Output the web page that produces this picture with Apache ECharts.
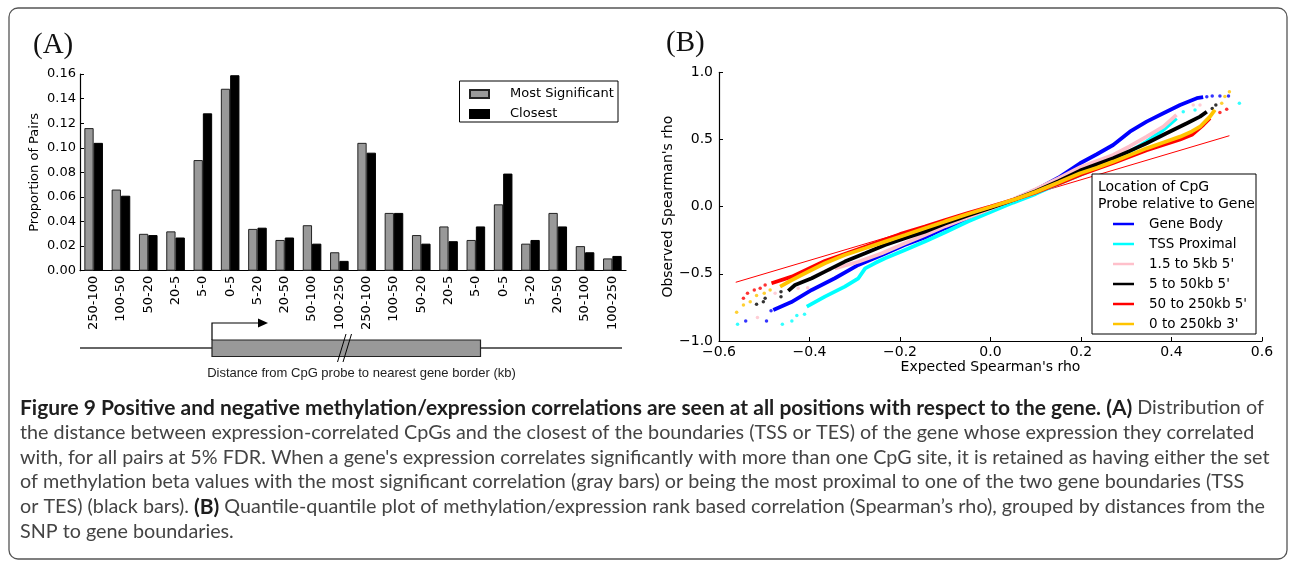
<!DOCTYPE html>
<html><head><meta charset="utf-8">
<script src="https://cdn.jsdelivr.net/npm/echarts@6/dist/echarts.min.js"></script>
<style>html,body{margin:0;padding:0;background:#fff}#c{width:1293px;height:562px}</style>
</head><body><div id="c"></div><script>
// ---------- Panel A data ----------
const distCategories = ['250-100','100-50','50-20','20-5','5-0','0-5','5-20','20-50','50-100','100-250',
  '250-100','100-50','50-20','20-5','5-0','0-5','5-20','20-50','50-100','100-250'];
const mostSignificant = [0.116,0.066,0.030,0.032,0.090,0.148,0.034,0.025,0.037,0.015,
  0.104,0.047,0.029,0.036,0.025,0.054,0.022,0.047,0.020,0.010];
const closest = [0.104,0.061,0.029,0.027,0.128,0.159,0.035,0.027,0.022,0.008,
  0.096,0.047,0.022,0.024,0.036,0.079,0.025,0.036,0.015,0.012];
const yAxisA = {min: 0, max: 0.16, interval: 0.02};

// ---------- Panel B data ----------
const xAxisB = {min: -0.6, max: 0.6, interval: 0.2};
const yAxisB = {min: -1.0, max: 1.0, interval: 0.5};
const refLine = [[-0.563,-0.563],[0.528,0.528]];
const geneBody = [[-0.48,-0.77],[-0.44,-0.71],[-0.395,-0.62],[-0.344,-0.533],[-0.292,-0.434],[-0.24,-0.36],
  [-0.19,-0.285],[-0.145,-0.23],[-0.1,-0.16],[-0.05,-0.09],[0,-0.02],[0.05,0.05],[0.1,0.125],[0.15,0.215],
  [0.198,0.323],[0.235,0.39],[0.271,0.459],[0.308,0.558],[0.345,0.633],[0.382,0.695],[0.419,0.757],[0.456,0.807],[0.47,0.815]];
const geneBodyTail = [[-0.541,-0.851],[-0.495,-0.851],[-0.485,-0.775],[0.478,0.818],[0.49,0.824],[0.507,0.824],[0.526,0.824]];
const tssProximal = [[-0.406,-0.744],[-0.366,-0.67],[-0.322,-0.595],[-0.292,-0.533],[-0.277,-0.459],[-0.255,-0.42],
  [-0.233,-0.384],[-0.189,-0.322],[-0.145,-0.26],[-0.1,-0.19],[-0.05,-0.11],[0,-0.04],[0.05,0.03],[0.1,0.095],
  [0.15,0.17],[0.2,0.24],[0.25,0.31],[0.28,0.36],[0.308,0.409],[0.345,0.484],[0.382,0.571],[0.411,0.658]];
const tssProximalTail = [[-0.559,-0.876],[-0.46,-0.876],[-0.439,-0.851],[-0.428,-0.811],[-0.411,-0.801],
  [0.426,0.707],[0.452,0.72],[0.55,0.77]];
const kb1p5to5 = [[-0.344,-0.459],[-0.292,-0.41],[-0.24,-0.347],[-0.189,-0.273],[-0.145,-0.211],[-0.1,-0.145],
  [-0.05,-0.08],[0,-0.015],[0.05,0.055],[0.1,0.13],[0.15,0.21],[0.198,0.293],[0.235,0.34],[0.271,0.385],
  [0.308,0.45],[0.345,0.521],[0.382,0.595],[0.411,0.683]];
const kb1p5to5Tail = [[-0.515,-0.826],[-0.476,-0.645],[-0.425,-0.608],[-0.404,-0.603],[-0.355,-0.471],
  [0.448,0.757],[0.463,0.757]];
const kb5to50 = [[-0.447,-0.627],[-0.432,-0.583],[-0.395,-0.533],[-0.366,-0.484],[-0.322,-0.409],[-0.277,-0.347],
  [-0.233,-0.285],[-0.189,-0.235],[-0.145,-0.186],[-0.1,-0.125],[-0.05,-0.065],[0,-0.01],[0.05,0.05],[0.1,0.115],
  [0.15,0.19],[0.198,0.268],[0.235,0.315],[0.271,0.36],[0.308,0.415],[0.345,0.472],[0.389,0.546],[0.434,0.621],
  [0.463,0.67],[0.478,0.707]];
const kb5to50Tail = [[-0.517,-0.727],[-0.502,-0.707],[-0.498,-0.682],[-0.463,-0.67],[-0.463,-0.633],
  [0.49,0.73],[0.498,0.757]];
const kb50to250 = [[-0.484,-0.57],[-0.439,-0.521],[-0.366,-0.405],[-0.277,-0.298],[-0.2,-0.205],[-0.145,-0.149],
  [-0.1,-0.1],[-0.05,-0.048],[0,0.0],[0.05,0.05],[0.1,0.105],[0.15,0.17],[0.2,0.24],[0.271,0.325],[0.345,0.42],
  [0.419,0.5],[0.445,0.535],[0.47,0.608],[0.485,0.658]];
const kb50to250Tail = [[-0.546,-0.682],[-0.537,-0.645],[-0.522,-0.62],[-0.509,-0.608],[-0.498,-0.583],
  [0.507,0.7],[0.522,0.725]];
const kb0to250_3p = [[-0.465,-0.595],[-0.439,-0.546],[-0.41,-0.496],[-0.366,-0.421],[-0.322,-0.36],[-0.277,-0.31],
  [-0.233,-0.26],[-0.189,-0.211],[-0.145,-0.161],[-0.1,-0.11],[-0.05,-0.055],[0,-0.003],[0.05,0.05],[0.1,0.11],
  [0.15,0.18],[0.198,0.249],[0.235,0.29],[0.271,0.335],[0.308,0.385],[0.345,0.434],[0.382,0.478],[0.419,0.521],
  [0.445,0.56],[0.463,0.595],[0.485,0.67],[0.496,0.72]];
const kb0to250_3pTail = [[-0.561,-0.786],[-0.546,-0.732],[-0.531,-0.707],[-0.517,-0.662],[-0.5,-0.645],[-0.487,-0.62],
  [0.511,0.77],[0.518,0.819],[0.528,0.856]];

const groupNames = ['Gene Body','TSS Proximal',"1.5 to 5kb 5'","5 to 50kb 5'","50 to 250kb 5'","0 to 250kb 3'"];
const groupColors = ['#0000ff','#00ffff','#ffc0cb','#000000','#ff0000','#ffc400'];
const groupBodies = [geneBody, tssProximal, kb1p5to5, kb5to50, kb50to250, kb0to250_3p];
const groupTails = [geneBodyTail, tssProximalTail, kb1p5to5Tail, kb5to50Tail, kb50to250Tail, kb0to250_3pTail];

// ---------- Caption ----------
const captionLines = [
 [['Figure 9 Positive and negative methylation/expression correlations are seen at all positions with respect to the gene. (A)', 'b'], [' Distribution of', 'n']],
 [['the distance between expression-correlated CpGs and the closest of the boundaries (TSS or TES) of the gene whose expression they correlated', 'n']],
 [["with, for all pairs at 5% FDR. When a gene's expression correlates significantly with more than one CpG site, it is retained as having either the set", 'n']],
 [['of methylation beta values with the most significant correlation (gray bars) or being the most proximal to one of the two gene boundaries (TSS', 'n']],
 [['or TES) (black bars). ', 'n'], ['(B)', 'b'], [' Quantile-quantile plot of methylation/expression rank based correlation (Spearman\u2019s rho), grouped by distances from the', 'n']],
 [['SNP to gene boundaries.', 'n']]
];
const captionY = [408, 433, 457.5, 482, 507, 532];

const capFont = 'Lato';
const mctx = document.createElement('canvas').getContext('2d');
mctx.font = '100px ' + capFont;
const capSize = 100 * 1250 / mctx.measureText(captionLines[2][0][0]).width;
mctx.font = 'bold 100px ' + capFont;
const capBoldSize = Math.min(capSize * 1.12, 100 * 1113 / mctx.measureText(captionLines[0][0][0]).width);

const plotFont = 'DejaVu Sans';

const chart = echarts.init(document.getElementById('c'), null, {renderer: 'canvas'});

const seriesB = [{
  type: 'line', name: 'y = x', xAxisIndex: 1, yAxisIndex: 1, data: refLine,
  showSymbol: false, symbol: 'none', lineStyle: {color: '#ff0000', width: 1}, z: 1, silent: true
}];
groupNames.forEach((n, i) => {
  seriesB.push({
    type: 'line', name: n, xAxisIndex: 1, yAxisIndex: 1, data: groupBodies[i],
    showSymbol: false, symbol: 'none', color: groupColors[i],
    lineStyle: {color: groupColors[i], width: 3.8}, z: 2 + i
  });
  seriesB.push({
    type: 'scatter', name: n + ' (tail)', xAxisIndex: 1, yAxisIndex: 1, data: groupTails[i],
    symbolSize: 3.5, itemStyle: {color: groupColors[i]}, z: 2 + i
  });
});

const graphics = [
  {type: 'rect', shape: {x: 9, y: 8, width: 1278, height: 551, r: 9}, style: {fill: 'none', stroke: '#555', lineWidth: 1.3}, z: 0},
  {type: 'text', x: 33, y: 45, style: {text: '(A)', font: '29px "Liberation Serif"', fill: '#111', verticalAlign: 'middle'}},
  {type: 'text', x: 666, y: 43, style: {text: '(B)', font: '29px "Liberation Serif"', fill: '#111', verticalAlign: 'middle'}},
  // gene diagram (schematic)
  {type: 'line', shape: {x1: 80, y1: 348, x2: 622, y2: 348}, style: {stroke: '#333', lineWidth: 1.5}},
  {type: 'rect', shape: {x: 212, y: 340, width: 268.5, height: 16.5}, style: {fill: '#999', stroke: '#222', lineWidth: 1.2}},
  {type: 'polyline', shape: {points: [[212, 340], [212, 323], [261, 323]]}, style: {stroke: '#000', lineWidth: 1.2, fill: null}},
  {type: 'polygon', shape: {points: [[258, 318.5], [268, 323], [258, 327.5]]}, style: {fill: '#000'}},
  {type: 'line', shape: {x1: 337.5, y1: 362, x2: 346, y2: 334}, style: {stroke: '#000', lineWidth: 1}},
  {type: 'line', shape: {x1: 343, y1: 362, x2: 351.5, y2: 334}, style: {stroke: '#000', lineWidth: 1}},
  {type: 'text', x: 361.5, y: 373, style: {text: 'Distance from CpG probe to nearest gene border (kb)', font: '13px "Liberation Sans"', fill: '#222', align: 'center', verticalAlign: 'middle'}},
  // legend boxes
  {type: 'rect', shape: {x: 459.5, y: 81, width: 158.5, height: 41}, style: {fill: '#fff', stroke: '#000', lineWidth: 1}, z: 5},
  {type: 'rect', shape: {x: 1092, y: 174, width: 164, height: 160}, style: {fill: '#fff', stroke: '#000', lineWidth: 1}, z: 5},
  {type: 'text', x: 1098, y: 187, style: {text: 'Location of CpG', font: '14px "DejaVu Sans"', fill: '#000', verticalAlign: 'middle'}, z: 6},
  {type: 'text', x: 1098, y: 204, style: {text: 'Probe relative to Gene', font: '14px "DejaVu Sans"', fill: '#000', verticalAlign: 'middle'}, z: 6}
];
captionLines.forEach((line, i) => {
  graphics.push({
    type: 'text', x: 20, y: captionY[i],
    style: {
      text: line.map(s => '{' + s[1] + '|' + s[0] + '}').join(''),
      verticalAlign: 'middle',
      rich: {
        b: {fontFamily: capFont, fontSize: capBoldSize, fontWeight: 'bold', fill: '#1e1e1e', color: '#1e1e1e'},
        n: {fontFamily: capFont, fontSize: capSize, fill: '#444', color: '#444'}
      }
    }
  });
});

chart.setOption({
  animation: false,
  backgroundColor: '#fff',
  textStyle: {fontFamily: plotFont},
  grid: [
    {left: 80, top: 74, width: 546, height: 196.7},
    {left: 719, top: 72.3, width: 543, height: 268.7}
  ],
  xAxis: [
    {type: 'category', gridIndex: 0, data: distCategories,
     axisLine: {lineStyle: {color: '#000', width: 1.2}}, axisTick: {show: false},
     axisLabel: {interval: 0, rotate: 90, margin: 5, color: '#000', fontSize: 13, fontFamily: plotFont}},
    {type: 'value', gridIndex: 1, min: xAxisB.min, max: xAxisB.max, interval: xAxisB.interval,
     name: "Expected Spearman's rho", nameLocation: 'middle', nameGap: 17,
     nameTextStyle: {fontSize: 14, color: '#000', fontFamily: plotFont},
     axisLine: {onZero: false, lineStyle: {color: '#000', width: 1.2}},
     axisTick: {inside: true, length: 4, lineStyle: {color: '#000'}},
     splitLine: {show: false},
     axisLabel: {margin: 4, color: '#000', fontSize: 14, fontFamily: plotFont,
       formatter: v => (v < 0 ? '\u2212' : '') + Math.abs(v).toFixed(1)}}
  ],
  yAxis: [
    {type: 'value', gridIndex: 0, min: yAxisA.min, max: yAxisA.max, interval: yAxisA.interval,
     name: 'Proportion of Pairs', nameLocation: 'middle', nameGap: 39,
     nameTextStyle: {fontSize: 13, color: '#000', fontFamily: plotFont},
     axisLine: {show: true, lineStyle: {color: '#000', width: 1.2}},
     axisTick: {show: true, inside: true, length: 4, lineStyle: {color: '#000'}},
     splitLine: {show: false},
     axisLabel: {margin: 4, color: '#000', fontSize: 13, fontFamily: plotFont, formatter: v => v.toFixed(2)}},
    {type: 'value', gridIndex: 1, min: yAxisB.min, max: yAxisB.max, interval: yAxisB.interval,
     name: "Observed Spearman's rho", nameLocation: 'middle', nameGap: 42,
     nameTextStyle: {fontSize: 14, color: '#000', fontFamily: plotFont},
     axisLine: {show: true, onZero: false, lineStyle: {color: '#000', width: 1.2}},
     axisTick: {show: true, inside: true, length: 4, lineStyle: {color: '#000'}},
     splitLine: {show: false},
     axisLabel: {margin: 6, color: '#000', fontSize: 14, fontFamily: plotFont,
       formatter: v => (v < 0 ? '\u2212' : '') + Math.abs(v).toFixed(1)}}
  ],
  legend: [
    {data: ['Most Significant', 'Closest'], orient: 'vertical', left: 464, top: 81, z: 10,
     itemWidth: 19, itemHeight: 8, itemGap: 4, icon: 'rect',
     textStyle: {fontSize: 13, color: '#000', fontFamily: plotFont, lineHeight: 16, padding: [0, 0, 0, 16]}},
    {data: groupNames, orient: 'vertical', left: 1108, top: 211, z: 10,
     itemWidth: 21, itemHeight: 2.5, itemGap: 4, icon: 'rect',
     textStyle: {fontSize: 13.5, color: '#000', fontFamily: plotFont, lineHeight: 16, padding: [0, 0, 0, 10]}}
  ],
  series: [
    {type: 'bar', name: 'Most Significant', xAxisIndex: 0, yAxisIndex: 0, data: mostSignificant,
     barWidth: 9.3, barGap: '0%', itemStyle: {color: '#999999', borderColor: '#222', borderWidth: 1}},
    {type: 'bar', name: 'Closest', xAxisIndex: 0, yAxisIndex: 0, data: closest,
     barWidth: 9.3, barGap: '0%', itemStyle: {color: '#000000', borderColor: '#000', borderWidth: 1}}
  ].concat(seriesB),
  graphic: graphics
});
</script></body></html>
